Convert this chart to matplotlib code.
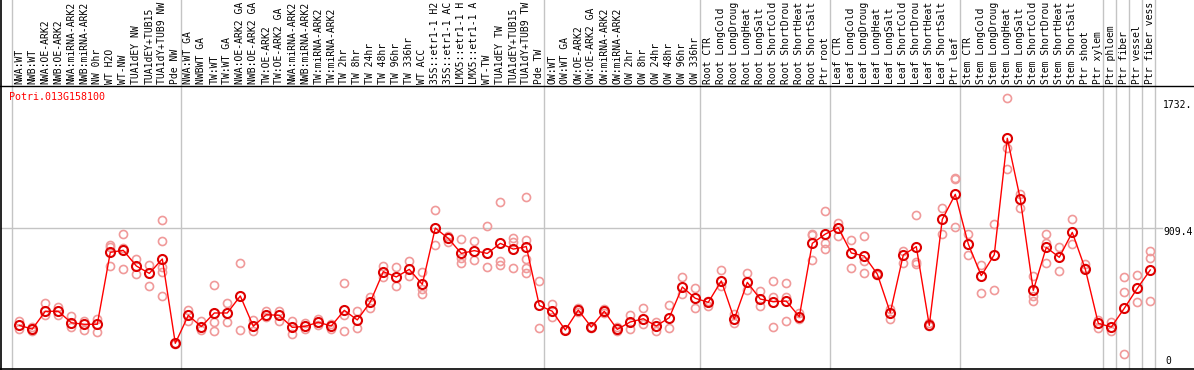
import matplotlib
matplotlib.use("Agg")
import matplotlib.pyplot as plt
from matplotlib.lines import Line2D
from matplotlib import transforms

plt.rcParams['font.family'] = ['DejaVu Sans Mono']

gene = "Potri.013G158100"

# column labels as far as they show in the header strip
labels = [
    "NWA:WT", "NWB:WT", "NWA:OE-ARK2", "NWB:OE-ARK2", "NWA:miRNA-ARK2", "NWB:miRNA-ARK2",
    "NW 0hr", "WT H2O", "WT-NW", "TUA1dEY NW", "TUA1dEY+TUB15", "TUA1dY+TUB9 NW", "Pde NW",
    "NWA:WT GA", "NWBWT GA", "TW:WT", "TW:WT GA", "NWA:OE-ARK2 GA", "NWB:OE-ARK2 GA",
    "TW:OE-ARK2", "TW:OE-ARK2 GA", "NWA:miRNA-ARK2", "NWB:miRNA-ARK2", "TW:miRNA-ARK2",
    "TW:miRNA-ARK2", "TW 2hr", "TW 8hr", "TW 24hr", "TW 48hr", "TW 96hr", "TW 336hr", "WT ACC",
    "35S::etr1-1 H2", "35S::etr1-1 AC", "LMX5::etr1-1 H", "LMX5::etr1-1 A", "WT-TW",
    "TUA1dEY TW", "TUA1dEY+TUB15", "TUA1dY+TUB9 TW", "Pde TW",
    "OW:WT", "OW:WT GA", "OW:OE-ARK2", "OW:OE-ARK2 GA", "OW:miRNA-ARK2", "OW:miRNA-ARK2",
    "OW 2hr", "OW 8hr", "OW 24hr", "OW 48hr", "OW 96hr", "OW 336hr",
    "Root CTR", "Root LongCold", "Root LongDroug", "Root LongHeat", "Root LongSalt",
    "Root ShortCold", "Root ShortDrou", "Root ShortHeat", "Root ShortSalt", "Ptr root",
    "Leaf CTR", "Leaf LongCold", "Leaf LongDroug", "Leaf LongHeat", "Leaf LongSalt",
    "Leaf ShortCold", "Leaf ShortDrou", "Leaf ShortHeat", "Leaf ShortSalt", "Ptr leaf",
    "Stem CTR", "Stem LongCold", "Stem LongDroug", "Stem LongHeat", "Stem LongSalt",
    "Stem ShortCold", "Stem ShortDrou", "Stem ShortHeat", "Stem ShortSalt", "Ptr shoot",
    "Ptr xylem", "Ptr phloem", "Ptr fiber", "Ptr vessel", "Ptr fiber vess",
]

# first index of each group (separator lines)
group_starts = [0, 13, 41, 53, 63, 73, 84, 85, 86, 87, 88]

means = [
    282, 258, 373, 373, 299, 289, 289, 754, 767, 666, 618, 711, 166,
    347, 274, 362, 362, 472, 276, 351, 347, 269, 276, 302, 278, 379, 317, 433, 629, 595,
    644, 547, 911, 844, 747, 765, 747, 812, 775, 791, 411,
    373, 252, 381, 271, 373, 256, 304, 325, 278, 332, 530, 457,
    431, 569, 323, 560, 452, 435, 439, 338, 812, 872,
    913, 750, 730, 614, 364, 737, 791, 282, 967, 1129,
    808, 603, 739, 1491, 1099, 508, 786, 722, 883, 646, 295,
    271, 392, 521, 640,
]

reps = [
    [312, 261], [273, 248], [426, 347], [401, 347], [340, 269], [312, 254], [321, 237],
    [801, 786, 668], [870, 784, 644], [711, 612], [674, 536], [961, 825, 661, 625, 470],
    [170, 162],
    [381, 308], [310, 252], [543, 302, 243], [429, 302], [685, 252], [317, 243], [377, 338],
    [377, 312], [312, 228], [299, 256], [321, 282], [293, 261], [556, 347, 243], [375, 265],
    [463, 394], [666, 597], [661, 534],
    [696, 601], [625, 519, 482], [1027, 799], [859, 823], [838, 719, 683], [827, 703],
    [922, 661], [1077, 698, 670], [847, 823, 651], [1109, 833, 709, 651, 618], [567, 265],
    [420, 338], [252, 250], [392, 370], [271, 268], [386, 364], [274, 245], [349, 256],
    [392, 289], [302, 248], [414, 265], [595, 487], [521, 392],
    [409, 440], [640, 536], [358, 295], [620, 508], [504, 407], [567, 465, 271],
    [556, 463, 310], [360, 320], [873, 864, 704], [1021, 816, 775],
    [941, 862], [831, 651], [857, 700, 620], [618, 610], [386, 325], [760, 685],
    [993, 694, 681], [295, 275], [1040, 870], [1232, 1226, 918],
    [873, 739], [674, 493], [936, 510], [1749, 1430, 1292], [1131, 1043], [603, 474, 437],
    [873, 812, 685], [788, 631], [967, 806], [681, 650], [317, 265],
    [304, 243], [595, 497, 95], [605, 433], [760, 715, 437],
]

ytick_vals = [1732, 909.4, 0]
ytick_text = ["1732.", "909.4", "0"]

W, H = 1194, 370
fig = plt.figure(figsize=(W / 100, H / 100), dpi=100)
ax = fig.add_axes([1 / W, 1 / H, 1155 / W, 283 / H])
ax.set_xlim(-1.408, 87.44)
ax.set_ylim(0, 1829)
ax.axis("off")

x = list(range(len(means)))
rep_x = [i for i, r in enumerate(reps) for _ in r]
rep_y = [v for r in reps for v in r]

grid_c = "#c4c4c4"
# separators, through the header
for s in group_starts:
    ax.plot([s - 0.6, s - 0.6], [0, 1.31], transform=ax.get_xaxis_transform(),
            color=grid_c, lw=1.0, clip_on=False, zorder=1)
# gridline at the middle value
ax.plot([0, 1.0053], [909.4, 909.4], transform=ax.get_yaxis_transform(),
        color=grid_c, lw=1.0, clip_on=False, zorder=1)

ax.plot(rep_x, rep_y, ls="none", marker="o", ms=5.8, mfc="none", mec="#f09a9a",
        mew=1.2, zorder=2)
ax.plot(x, means, color="red", lw=1.0, marker="o", ms=6.5, mfc="none",
        mec="#dd0000", mew=1.5, zorder=3)

# frame lines
def fline(x0, y0, x1, y1, **kw):
    fig.add_artist(Line2D([x0 / W, x1 / W], [1 - y0 / H, 1 - y1 / H],
                          transform=fig.transFigure, **kw))

fline(0, 85.7, W, 85.7, color="black", lw=1.0)
fline(0, 369.3, W, 369.3, color="black", lw=1.2)
fline(1.3, 0, 1.3, H, color="black", lw=1.2)

# column labels
lab_tr = transforms.blended_transform_factory(ax.transData, fig.transFigure)
for i, lab in enumerate(labels):
    ax.text(i, 1 - 83.5 / H, lab, rotation=90, ha="center", va="bottom",
            fontsize=7.0, color="black", transform=lab_tr, clip_on=False)

# value labels on the right
for v, t in zip(ytick_vals, ytick_text):
    if v == 0:
        tr = transforms.offset_copy(ax.get_yaxis_transform(), fig=fig, x=2, y=3, units="dots")
        ax.text(1.0061, v, t, transform=tr, ha="left", va="bottom", fontsize=7.0)
    else:
        tr = transforms.offset_copy(ax.get_yaxis_transform(), fig=fig, y=-4, units="dots")
        ax.text(1.0061, v, t, transform=tr, ha="left", va="center", fontsize=7.0)

fig.text(9.3 / W, 1 - 96.7 / H, gene, color="red", fontsize=7.2, ha="left", va="center")

fig.savefig("out.png", dpi=100)
